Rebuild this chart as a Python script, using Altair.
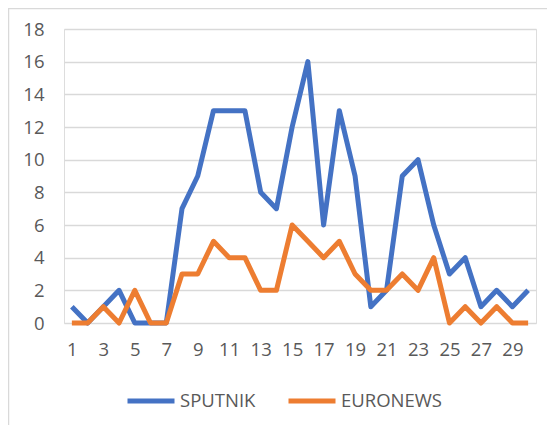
import altair as alt
import pandas as pd

days = list(range(1, 31))
sputnik = [1, 0, 1, 2, 0, 0, 0, 7, 9, 13, 13, 13, 8, 7, 12, 16, 6, 13, 9, 1, 2, 9, 10, 6, 3, 4, 1, 2, 1, 2]
euronews = [0, 0, 1, 0, 2, 0, 0, 3, 3, 5, 4, 4, 2, 2, 6, 5, 4, 5, 3, 2, 2, 3, 2, 4, 0, 1, 0, 1, 0, 0]
series_names = ["SPUTNIK", "EURONEWS"]
series_colors = ["#4472C4", "#ED7D31"]
x_tick_labels = list(range(1, 31, 2))
y_ticks = list(range(0, 19, 2))

rows = []
for d, s, e in zip(days, sputnik, euronews):
    rows.append({"day": d, "series": "SPUTNIK", "value": s})
    rows.append({"day": d, "series": "EURONEWS", "value": e})
df = pd.DataFrame(rows)

FONT = "Open Sans"
TXT = "#595959"
FS = 18.5

lines = alt.Chart(df).mark_line(strokeWidth=5, strokeJoin="round").encode(
    x=alt.X("day:O", sort=days,
            scale=alt.Scale(type="point", padding=0.5),
            axis=alt.Axis(title=None, labelAngle=0, values=x_tick_labels,
                          ticks=False, domain=False, grid=False,
                          labelPadding=17, labelFontSize=FS, labelColor=TXT,
                          labelFont=FONT)),
    y=alt.Y("value:Q", scale=alt.Scale(domain=[0, 18], nice=False),
            axis=alt.Axis(title=None, values=y_ticks, ticks=False, domain=False,
                          grid=True, gridColor="#D9D9D9", gridWidth=1.3,
                          labelPadding=20, labelFontSize=FS, labelColor=TXT,
                          labelFont=FONT)),
    color=alt.Color("series:N", sort=series_names,
                    scale=alt.Scale(domain=series_names, range=series_colors),
                    legend=alt.Legend(title=None, orient="none", direction="horizontal",
                                      legendX=61, legendY=346,
                                      symbolType="stroke", symbolSize=2209,
                                      symbolStrokeWidth=5, labelFontSize=FS,
                                      labelColor=TXT, labelFont=FONT,
                                      labelOffset=3, columnPadding=22)),
)

border_top = alt.Chart(pd.DataFrame({"a": [0]})).mark_rule(color="#D9D9D9", strokeWidth=1.5).encode(
    x=alt.value(-56), x2=alt.value(483), y=alt.value(-20.5))
border_left = alt.Chart(pd.DataFrame({"a": [0]})).mark_rule(color="#D9D9D9", strokeWidth=1.5).encode(
    x=alt.value(-55.5), y=alt.value(-21), y2=alt.value(400))

chart = alt.layer(border_top, border_left, lines).properties(
    width=472, height=294,
    autosize=alt.AutoSizeParams(type="none"),
    padding={"left": 56, "top": 21, "right": 11, "bottom": 102},
).configure_view(stroke=None).configure(background="white")

chart.save("out.html", embed_options={"renderer": "svg", "actions": False})
